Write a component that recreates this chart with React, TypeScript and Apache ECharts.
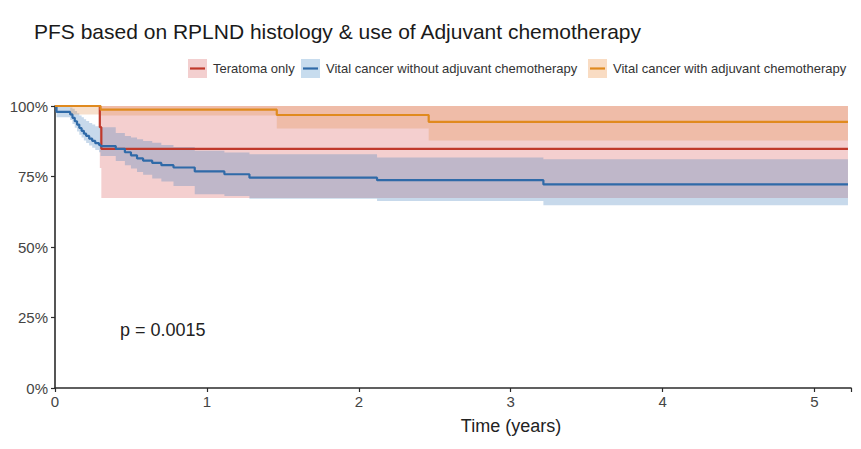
import React, { useEffect, useRef } from "react";
import * as echarts from "echarts";

// ---- data (survival in %) ----
const teratomaTime = [0, 0.295, 0.305, 5.22];
const teratomaSurv = [100, 92.5, 84.8, 84.8];
const teratomaLower = [100, 78.0, 67.4, 67.4];
const teratomaUpper = [100, 100, 100, 100];

const noAdjTime = [0, 0.01, 0.1, 0.115, 0.13, 0.145, 0.16, 0.175, 0.19, 0.205, 0.225, 0.245, 0.265, 0.29, 0.3, 0.4, 0.46, 0.5, 0.54, 0.58, 0.64, 0.7, 0.78, 0.92, 1.115, 1.28, 2.12, 3.215, 5.22];
const noAdjSurv = [100, 97.9, 97.0, 95.8, 94.6, 93.4, 92.2, 91.2, 90.2, 89.4, 88.4, 87.6, 86.8, 86.2, 85.8, 84.8, 83.6, 82.5, 81.4, 80.6, 79.8, 79.0, 78.2, 76.8, 75.8, 74.6, 73.7, 72.2, 72.2];
const noAdjLower = [100, 96.0, 95.0, 93.6, 92.3, 91.0, 89.8, 88.8, 87.8, 86.9, 86.0, 85.2, 84.4, 83.6, 82.3, 80.5, 79.0, 77.8, 76.6, 75.6, 74.3, 73.2, 71.6, 68.7, 68.1, 67.1, 66.3, 64.8, 64.8];
const noAdjUpper = [100, 100, 99.5, 99.0, 98.2, 97.4, 96.6, 96.0, 95.3, 94.7, 94.0, 93.4, 92.8, 92.6, 92.5, 90.4, 89.4, 88.8, 88.2, 87.6, 87.0, 86.2, 85.5, 84.1, 83.5, 82.9, 81.7, 81.1, 81.1];

const adjTime = [0, 0.1, 0.3, 1.46, 2.46, 5.22];
const adjSurv = [100, 100, 98.7, 96.8, 94.4, 94.4];
const adjLower = [100, 97.0, 96.6, 92.0, 87.8, 87.8];
const adjUpper = [100, 100, 100, 100, 100, 100];

const groupNames = [
  "Teratoma only",
  "Vital cancer without adjuvant chemotherapy",
  "Vital cancer with adjuvant chemotherapy",
];
const xTicks = [0, 1, 2, 3, 4, 5];
const yTicks = [0, 25, 50, 75, 100];
const pValueText = "p = 0.0015";

const lineColors = ["#C0392B", "#2F6AA8", "#E08A1E"];
const bandColors = [
  "rgba(217,95,95,0.30)",
  "rgba(70,130,190,0.30)",
  "rgba(225,140,70,0.28)",
];
const legendBoxColors = ["#F3CFCF", "#C7DCEE", "#F9DCC3"];

const FONT = "'Liberation Sans', Arial, sans-serif";

function bandSeries(name: string, t: number[], lo: number[], hi: number[], color: string) {
  return {
    name: name + " CI",
    type: "custom",
    silent: true,
    data: t.map((x, i) => [x, lo[i], hi[i]]),
    encode: { x: 0, y: [1, 2] },
    renderItem: (params: any, api: any) => {
      if (params.dataIndex !== 0) return null;
      const n = t.length;
      const top: number[][] = [];
      const bottom: number[][] = [];
      for (let i = 0; i < n - 1; i++) {
        top.push(api.coord([t[i], hi[i]]));
        top.push(api.coord([t[i + 1], hi[i]]));
        bottom.push(api.coord([t[i], lo[i]]));
        bottom.push(api.coord([t[i + 1], lo[i]]));
      }
      const points = top.concat(bottom.reverse());
      return {
        type: "polygon",
        shape: { points },
        style: { fill: color },
      };
    },
  };
}

function lineSeries(name: string, t: number[], s: number[], color: string) {
  return {
    name,
    type: "line",
    step: "end",
    symbol: "none",
    lineStyle: { color, width: 2.2 },
    itemStyle: { color },
    data: t.map((x, i) => [x, s[i]]),
  };
}

export default function App() {
  const ref = useRef<HTMLDivElement>(null);
  useEffect(() => {
    if (!ref.current) return;
    const chart = echarts.init(ref.current, null, { renderer: "svg" });

    const legendStarts = [188, 301, 588];
    const legendGraphics: any[] = [];
    groupNames.forEach((n, i) => {
      const x = legendStarts[i];
      legendGraphics.push({
        type: "rect",
        shape: { x, y: 59, width: 19, height: 19 },
        style: { fill: legendBoxColors[i] },
      });
      legendGraphics.push({
        type: "line",
        shape: { x1: x + 2, y1: 68.5, x2: x + 17, y2: 68.5 },
        style: { stroke: lineColors[i], lineWidth: 2.2 },
      });
      legendGraphics.push({
        type: "text",
        x: x + 25,
        y: 68.5,
        style: {
          text: n,
          fill: "#333",
          font: `13px ${FONT}`,
          textVerticalAlign: "middle",
          verticalAlign: "middle",
        },
      });
    });

    chart.setOption({
      animation: false,
      backgroundColor: "#ffffff",
      title: {
        text: "PFS based on RPLND histology & use of Adjuvant chemotherapy",
        left: 29,
        top: 16,
        textStyle: { fontFamily: FONT, fontSize: 21, fontWeight: "normal", color: "#1a1a1a" },
      },
      grid: { left: 55, right: 10, top: 106, bottom: 61, containLabel: false },
      xAxis: {
        type: "value",
        min: 0,
        max: 5.24,
        interval: 1,
        axisLine: { show: true, lineStyle: { color: "#2b2b2b", width: 1.6 } },
        axisTick: { show: true, length: 4, lineStyle: { color: "#2b2b2b", width: 1.2 } },
        axisLabel: {
          margin: 6,
          fontFamily: FONT,
          fontSize: 15,
          color: "#444",
          formatter: (v: number) => (xTicks.includes(v) ? String(v) : ""),
        },
        splitLine: { show: false },
      },
      yAxis: {
        type: "value",
        min: 0,
        max: 100,
        interval: 25,
        axisLine: { show: true, lineStyle: { color: "#2b2b2b", width: 1.6 } },
        axisTick: { show: true, length: 4, lineStyle: { color: "#2b2b2b", width: 1.2 } },
        axisLabel: {
          margin: 7,
          fontFamily: FONT,
          fontSize: 15,
          color: "#444",
          formatter: (v: number) => (yTicks.includes(v) ? v + "%" : ""),
        },
        splitLine: { show: false },
      },
      graphic: [
        ...legendGraphics,
        {
          type: "text",
          x: 511,
          y: 426,
          style: {
            text: "Time (years)",
            fill: "#222",
            font: `18px ${FONT}`,
            align: "center",
            textAlign: "center",
            verticalAlign: "middle",
            textVerticalAlign: "middle",
          },
        },
        {
          type: "text",
          x: 120,
          y: 330,
          style: {
            text: pValueText,
            fill: "#222",
            font: `18px ${FONT}`,
            verticalAlign: "middle",
            textVerticalAlign: "middle",
          },
        },
      ],
      series: [
        bandSeries(groupNames[0], teratomaTime, teratomaLower, teratomaUpper, bandColors[0]),
        bandSeries(groupNames[1], noAdjTime, noAdjLower, noAdjUpper, bandColors[1]),
        bandSeries(groupNames[2], adjTime, adjLower, adjUpper, bandColors[2]),
        lineSeries(groupNames[0], teratomaTime, teratomaSurv, lineColors[0]),
        lineSeries(groupNames[1], noAdjTime, noAdjSurv, lineColors[1]),
        lineSeries(groupNames[2], adjTime, adjSurv, lineColors[2]),
      ],
    });
    return () => chart.dispose();
  }, []);
  return (
    <div
      ref={ref}
      style={{ position: "fixed", left: 0, top: 0, width: 861, height: 449, background: "#fff" }}
    />
  );
}
